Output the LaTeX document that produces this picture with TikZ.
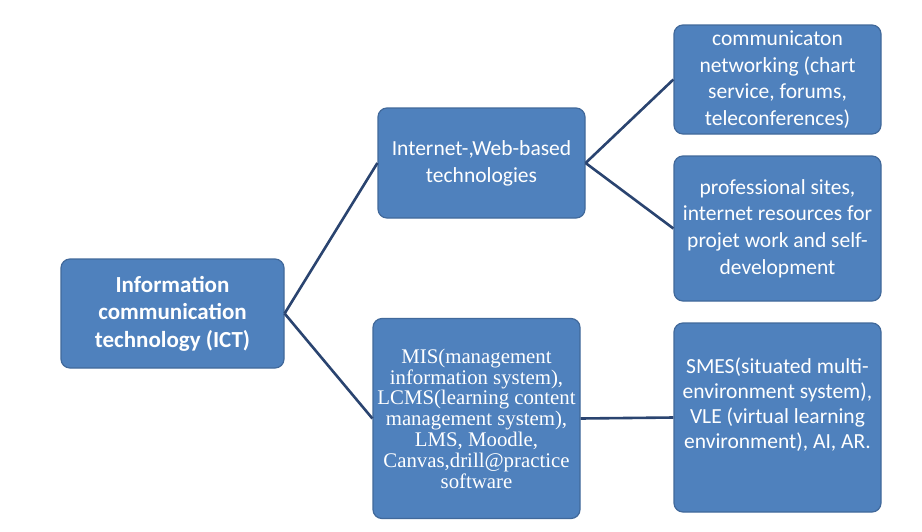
\documentclass[tikz,border=0pt]{standalone}
\usepackage{fontspec}
\setmainfont{Carlito}
\newfontfamily\timesfont{Liberation Serif}
\definecolor{boxfill}{HTML}{4F81BD}
\definecolor{boxline}{HTML}{41699B}
\definecolor{conn}{HTML}{2A4470}
\begin{document}
\begin{tikzpicture}[x=1pt,y=-1pt,
  box/.style={draw=boxline,line width=1.2pt,fill=boxfill,rounded corners=9pt,
    text=white,align=center,inner sep=0pt,
    font=\fontsize{21.5}{26.8}\selectfont},
  link/.style={draw=conn,line width=2.6pt}]
\useasboundingbox (0,0) rectangle (922,531);
\fill[white] (0,0) rectangle (922,531);
\node[box,minimum width=223pt,minimum height=109pt,
  font=\bfseries\fontsize{23}{27.5}\selectfont] (ict) at (172.5,313.5)
  {Information\\communication\\technology (ICT)};
\node[box,minimum width=207pt,minimum height=110pt] (web) at (481.5,163)
  {Internet-,Web-based\\technologies};
\node[box,minimum width=207pt,minimum height=109pt] (com) at (777.5,79.5)
  {communicaton\\networking (chart\\service, forums,\\teleconferences)};
\node[box,minimum width=207pt,minimum height=145pt] (pro) at (777.5,228.5)
  {professional sites,\\internet resources for\\projet work and self-\\development};
\node[box,minimum width=207pt,minimum height=200pt,
  font=\timesfont\fontsize{20.8}{20.8}\selectfont] (mis) at (476.5,418.5)
  {MIS(management\\information system),\\LCMS(learning content\\management system),\\LMS, Moodle,\\Canvas,drill@practice\\software};
\node[box,minimum width=207pt,minimum height=189pt] (smes) at (777.5,417.5) {};
\node[text=white,align=center,inner sep=0pt,
  font=\fontsize{21.5}{25}\selectfont] (smest) at (777.5,405)
  {SMES(situated multi-\\environment system),\\VLE (virtual learning\\environment), AI, AR.};
\draw[link] (ict.east) -- (web.west);
\draw[link] (ict.east) -- (mis.west);
\draw[link] (web.east) -- (com.west);
\draw[link] (web.east) -- (pro.west);
\draw[link] (mis.east) -- (smes.west);
\end{tikzpicture}
\end{document}
